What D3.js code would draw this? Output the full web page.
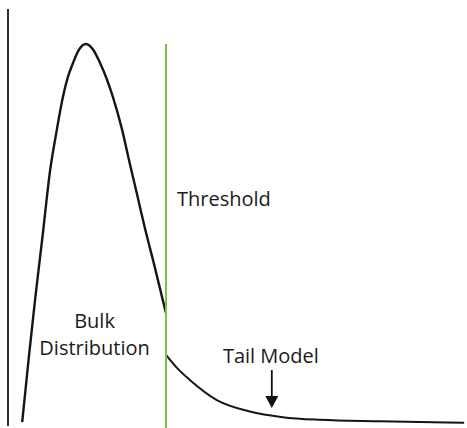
<!DOCTYPE html>
<html>
<head>
<meta charset="utf-8">
<script src="https://cdn.jsdelivr.net/npm/d3@7"></script>
<style>
  html, body { margin: 0; padding: 0; background: #fff; }
  #dist-plot { width: 467px; height: 428px; }
</style>
</head>
<body>
<div id="dist-plot"></div>
<script>
var TEXTFONT = 'Open Sans';
var DIVSELECTOR = '#dist-plot';

// bulk density (x, y)
var bulkX = [3.1, 4.5, 5.9, 7.6, 9.2, 10.6, 12.0, 13.0, 14.2, 15.5, 17.0, 18.6, 20.1, 21.5, 22.9, 24.8, 26.6, 28.3, 29.9, 31.9, 33.8, 34.5];
var bulkY = [0.005, 0.17, 0.326, 0.50, 0.668, 0.77, 0.861, 0.91, 0.95, 0.985, 1.0, 0.985, 0.95, 0.91, 0.861, 0.78, 0.685, 0.598, 0.515, 0.42, 0.326, 0.292];

// tail model (x, y) past the threshold
var tailX = [34.5, 37.1, 39.7, 45.6, 52.8, 60.0, 68.1, 81.2, 99.6];
var tailY = [0.182, 0.145, 0.116, 0.063, 0.033, 0.018, 0.011, 0.007, 0.003];

var THRESHOLD = 34.5;
var ARROW = { 'x' : 57.6, 'from' : 0.142, 'to' : 0.042 };
var LABELS = [
    { 'lines' : ['Threshold'], 'x' : 36.9, 'y' : 0.575, 'anchor' : 'start' },
    { 'lines' : ['Bulk', 'Distribution'], 'x' : 18.9, 'y' : 0.253, 'anchor' : 'middle' },
    { 'lines' : ['Tail Model'], 'x' : 57.4, 'y' : 0.161, 'anchor' : 'middle' }
];

/** Zip two value arrays into point objects. */
function toPoints(xs, ys) {
    return xs.map(function (x, i) {
        return { 'x' : x, 'y' : ys[i] };
    });
};

window.addEventListener('DOMContentLoaded', function () {
    var svg = d3.select(DIVSELECTOR).append('svg').attr('width', 467).attr('height', 428);
    var xScale = d3.scaleLinear().domain([0, 100]).range([8, 466]);
    var yScale = d3.scaleLinear().domain([0, 1]).range([424, 44]);
    var grp = svg.append('g').style('font-family', TEXTFONT);

    // left axis line
    grp.append('line').attr('x1', xScale(0)).attr('x2', xScale(0))
        .attr('y1', yScale(1.092)).attr('y2', yScale(-0.005))
        .attr('stroke', '#2b2b2b').attr('stroke-width', 2);

    var line = d3.line().x(function (d) {
        return xScale(d.x);
    }).y(function (d) {
        return yScale(d.y);
    }).curve(d3.curveMonotoneX);

    grp.append('path').datum(toPoints(bulkX, bulkY)).attr('d', line)
        .attr('fill', 'none').attr('stroke', '#151515').attr('stroke-width', 2.4);
    grp.append('path').datum(toPoints(tailX, tailY)).attr('d', line)
        .attr('fill', 'none').attr('stroke', '#151515').attr('stroke-width', 2);

    // threshold
    grp.append('line').attr('x1', xScale(THRESHOLD)).attr('x2', xScale(THRESHOLD))
        .attr('y1', yScale(1.0)).attr('y2', yScale(-0.02))
        .attr('stroke', '#7cc24c').attr('stroke-width', 2);

    // arrow to tail
    var ax = xScale(ARROW.x);
    var tipY = yScale(ARROW.to);
    grp.append('line').attr('x1', ax).attr('x2', ax).attr('y1', yScale(ARROW.from)).attr('y2', tipY - 8)
        .attr('stroke', '#111').attr('stroke-width', 1.8);
    grp.append('path').attr('d', 'M' + (ax - 6.5) + ',' + (tipY - 12) + 'L' + (ax + 6.5) + ',' + (tipY - 12) + 'L' + ax + ',' + tipY + 'Z')
        .attr('fill', '#111');

    LABELS.forEach(function (lab) {
        var txt = grp.append('text').attr('x', xScale(lab.x)).attr('y', yScale(lab.y))
            .style('font-size', '20px').style('fill', '#1a1a1a').style('text-anchor', lab.anchor);
        lab.lines.forEach(function (s, i) {
            txt.append('tspan').attr('x', xScale(lab.x)).attr('dy', i === 0 ? 0 : 27).text(s);
        });
    });
});
</script>
</body>
</html>
